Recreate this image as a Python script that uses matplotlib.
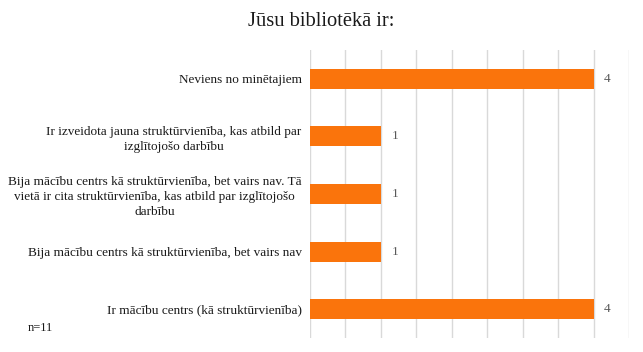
import matplotlib
matplotlib.use("Agg")
import matplotlib.pyplot as plt

plt.rcParams['font.family'] = ['Liberation Serif', 'DejaVu Serif']

# bottom-to-top order, as drawn
categories = [
    "Ir mācību centrs (kā struktūrvienība)",
    "Bija mācību centrs kā struktūrvienība, bet vairs nav",
    "Bija mācību centrs kā struktūrvienība, bet vairs nav. Tā\nvietā ir cita struktūrvienība, kas atbild par izglītojošo\ndarbību",
    "Ir izveidota jauna struktūrvienība, kas atbild par\nizglītojošo darbību",
    "Neviens no minētajiem",
]
counts = [4, 1, 1, 1, 4]
title = "Jūsu bibliotēkā ir:"
note = "n=11"

fig = plt.figure(figsize=(6.43, 3.52), dpi=100)
ax = fig.add_axes([310 / 643, 1 - 338 / 352, (629 - 310) / 643, (338 - 50) / 352])

bar_color = '#FA740C'
ax.barh(range(len(categories)), counts, height=0.35, color=bar_color, zorder=3)

ax.set_xlim(0, 4.5)
ax.set_ylim(-0.5, len(categories) - 0.5)
ax.set_xticks([i * 0.5 for i in range(10)])
ax.xaxis.grid(True, color='#d9d9d9', linewidth=1)
ax.tick_params(axis='x', length=0, labelbottom=False)
ax.tick_params(axis='y', length=0, pad=6)
for s in ax.spines.values():
    s.set_visible(False)

ax.set_yticks(range(len(categories)))
ax.set_yticklabels(categories, fontsize=9.5, color='#1a1a1a', linespacing=1.3)
for lbl in ax.get_yticklabels():
    lbl.set_multialignment('center')

for i, v in enumerate(counts):
    ax.text(v + 0.15, i, str(v), va='center', ha='left', fontsize=9.5, color='#595959')

fig.text(0.5, 1 - 21 / 352, title, ha='center', va='center', fontsize=14.8, color='#1a1a1a')
fig.text(28 / 643, 1 - 328 / 352, note, ha='left', va='center', fontsize=9, color='#1a1a1a')

fig.savefig("out.png", dpi=100)
